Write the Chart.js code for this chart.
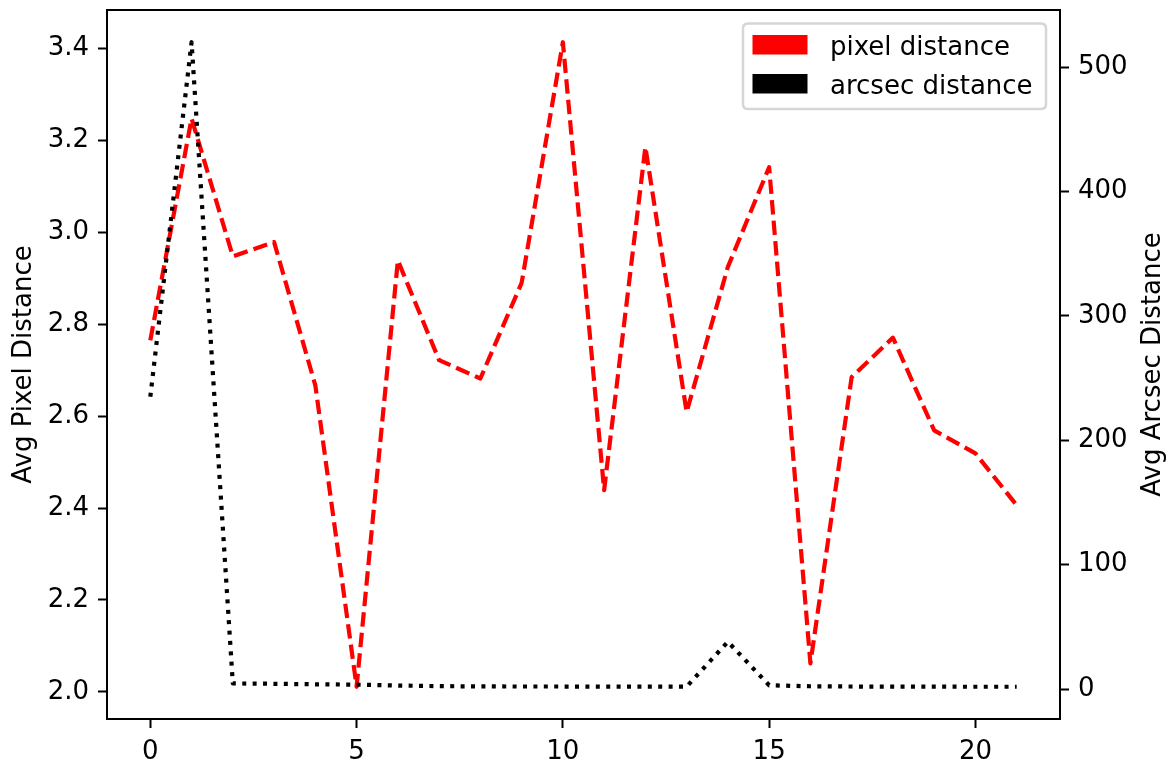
<!DOCTYPE html>
<html>
<head>
<meta charset="utf-8">
<script src="https://cdn.jsdelivr.net/npm/chart.js@4/dist/chart.umd.min.js"></script>
<style>
html,body{margin:0;padding:0;background:#fff;}
canvas{display:block;}
</style>
</head>
<body>
<canvas id="c" width="1167" height="763"></canvas>
<script>
// ---- data ----
const xValues = [0,1,2,3,4,5,6,7,8,9,10,11,12,13,14,15,16,17,18,19,20,21];
const pixelDistance = [2.765,3.248,2.948,2.979,2.667,2.011,2.939,2.722,2.682,2.890,3.414,2.439,3.186,2.609,2.925,3.142,2.062,2.685,2.771,2.569,2.519,2.406];
const arcsecDistance = [235,520,4.5,4.2,3.8,3.5,2.8,2.3,2.1,2.0,2.0,1.9,1.9,1.9,38,3.0,2.2,2.0,1.9,1.9,1.8,1.8];
const xTicks = [0,5,10,15,20];
const pixelTicks = [2.0,2.2,2.4,2.6,2.8,3.0,3.2,3.4];
const arcsecTicks = [0,100,200,300,400,500];
const seriesLabels = ['pixel distance','arcsec distance'];
const axisTitles = ['Avg Pixel Distance','Avg Arcsec Distance'];

// ---- helpers ----
const FONT = 'DejaVu Sans';
const FS = 26;
function padRange(arr){
  const mn = Math.min(...arr), mx = Math.max(...arr), d = (mx-mn)*0.05;
  return [mn-d, mx+d];
}
const xr = padRange(xValues), yr = padRange(pixelDistance), y2r = padRange(arcsecDistance);

function axisCommon(tickList, fmt){
  return {
    afterBuildTicks: s => { s.ticks = tickList.map(v => ({value: v})); },
    grid: {display: true, drawOnChartArea: false, drawTicks: true, tickLength: 9, tickWidth: 2, tickColor: '#000'},
    border: {display: true, color: '#000', width: 2},
    ticks: {color: '#000', font: {family: FONT, size: FS}, padding: 9, autoSkip: false, maxRotation: 0, callback: fmt}
  };
}

const framePlugin = {
  id: 'frame',
  afterDraw(chart){
    const ctx = chart.ctx, a = chart.chartArea;
    ctx.save();
    // top spine
    ctx.strokeStyle = '#000'; ctx.lineWidth = 2;
    ctx.beginPath(); ctx.moveTo(a.left-1, a.top); ctx.lineTo(a.right+1, a.top); ctx.stroke();
    // axis titles (matplotlib style: both read bottom-to-top)
    const midY = (a.top + a.bottom)/2;
    ctx.fillStyle = '#000';
    ctx.font = FS + 'px "' + FONT + '"';
    ctx.textAlign = 'center'; ctx.textBaseline = 'alphabetic';
    ctx.save(); ctx.translate(31, midY); ctx.rotate(-Math.PI/2); ctx.fillText(axisTitles[0], 0, 0); ctx.restore();
    ctx.save(); ctx.translate(1160, midY); ctx.rotate(-Math.PI/2); ctx.fillText(axisTitles[1], 0, 0); ctx.restore();
    // legend
    const lx = 743, ly = 23.5, lw = 303, lh = 85.5, r = 5;
    ctx.beginPath();
    ctx.moveTo(lx+r, ly); ctx.lineTo(lx+lw-r, ly); ctx.quadraticCurveTo(lx+lw, ly, lx+lw, ly+r);
    ctx.lineTo(lx+lw, ly+lh-r); ctx.quadraticCurveTo(lx+lw, ly+lh, lx+lw-r, ly+lh);
    ctx.lineTo(lx+r, ly+lh); ctx.quadraticCurveTo(lx, ly+lh, lx, ly+lh-r);
    ctx.lineTo(lx, ly+r); ctx.quadraticCurveTo(lx, ly, lx+r, ly);
    ctx.closePath();
    ctx.fillStyle = 'rgba(255,255,255,0.8)'; ctx.fill();
    ctx.strokeStyle = '#d6d6d6'; ctx.lineWidth = 2.5; ctx.stroke();
    const rows = [35, 74];
    chart.data.datasets.forEach((ds, i) => {
      ctx.fillStyle = ds.borderColor;
      ctx.fillRect(752.5, rows[i], 55, 19.5);
      ctx.fillStyle = '#000';
      ctx.textAlign = 'left'; ctx.textBaseline = 'alphabetic';
      ctx.fillText(ds.label, 830, rows[i] + 19.5);
    });
    ctx.restore();
  }
};

new Chart(document.getElementById('c'), {
  type: 'line',
  data: {
    datasets: [
      {label: seriesLabels[0], data: xValues.map((x,i) => ({x: x, y: pixelDistance[i]})), yAxisID: 'y',
       borderColor: '#ff0000', borderWidth: 4.2, borderDash: [14.4, 6.2], borderJoinStyle: 'round', borderCapStyle: 'butt',
       pointRadius: 0, tension: 0, fill: false, order: 2},
      {label: seriesLabels[1], data: xValues.map((x,i) => ({x: x, y: arcsecDistance[i]})), yAxisID: 'y2',
       borderColor: '#000000', borderWidth: 4.2, borderDash: [4, 6.4], borderJoinStyle: 'round', borderCapStyle: 'butt',
       pointRadius: 0, tension: 0, fill: false, order: 1}
    ]
  },
  options: {
    responsive: false, animation: false, devicePixelRatio: 1,
    layout: {padding: {top: 10, left: 0, right: 0, bottom: 0}},
    plugins: {legend: {display: false}, tooltip: {enabled: false}},
    scales: {
      x: Object.assign(axisCommon(xTicks, v => String(v)), {
        type: 'linear', position: 'bottom', min: xr[0], max: xr[1],
        afterFit: s => { s.height = 44; s.paddingLeft = 0; s.paddingRight = 0; }
      }),
      y: Object.assign(axisCommon(pixelTicks, v => Number(v).toFixed(1)), {
        type: 'linear', position: 'left', min: yr[0], max: yr[1],
        afterFit: s => { s.width = 107; s.paddingTop = 0; s.paddingBottom = 0; }
      }),
      y2: Object.assign(axisCommon(arcsecTicks, v => String(Math.round(v))), {
        type: 'linear', position: 'right', min: y2r[0], max: y2r[1],
        afterFit: s => { s.width = 107; s.paddingTop = 0; s.paddingBottom = 0; }
      })
    }
  },
  plugins: [framePlugin]
});
</script>
</body>
</html>
